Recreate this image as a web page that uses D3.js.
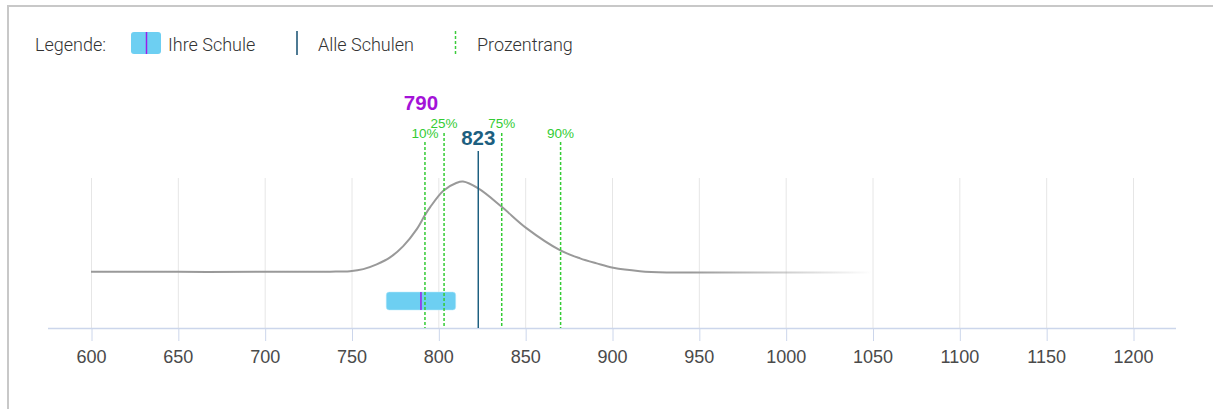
<!DOCTYPE html>
<html>
<head>
<meta charset="utf-8">
<script src="https://cdn.jsdelivr.net/npm/d3@7"></script>
<style>
  html, body { margin: 0; padding: 0; background: #fff; }
  svg { display: block; }
</style>
</head>
<body>
<svg id="chart" width="1213" height="409"></svg>
<script>
// ---- data ----
const xTicks = [600, 650, 700, 750, 800, 850, 900, 950, 1000, 1050, 1100, 1150, 1200];
const curveValues = [600, 650, 700, 737.6, 749.1, 756.8, 764.5, 772.2, 779.8, 787.5, 792.3, 795.2, 802.9, 810.6, 814.2,
  823, 836.5, 850.9, 870, 881.6, 891.2, 900.7, 916.1, 931.5, 946.6, 1000, 1050];
const curveDensity = [0.008, 0.008, 0.008, 0.01, 0.016, 0.038, 0.09, 0.167, 0.291, 0.475, 0.632, 0.716, 0.899, 0.987, 1.0,
  0.925, 0.723, 0.486, 0.247, 0.156, 0.101, 0.053, 0.016, 0.002, 0, 0, 0];
const percentileLabels = ["10%", "25%", "75%", "90%"];
const percentileValues = [792.3, 803.3, 836.5, 870.4];
const schoolValue = 790;
const schoolRange = [770, 810];
const allValue = 823;
const legendLabels = ["Legende:", "Ihre Schule", "Alle Schulen", "Prozentrang"];

// ---- drawing ----
const svg = d3.select("#chart");
const x = d3.scaleLinear().domain([600, 1200]).range([91, 1133]);
const y = d3.scaleLinear().domain([0, 1]).range([272.6, 181.6]);
const axisY = 328, gridTop = 178;

// frame
svg.append("rect").attr("x", 7).attr("y", 5).attr("width", 1206).attr("height", 2).attr("fill", "#c8c8c8");
svg.append("rect").attr("x", 7).attr("y", 5).attr("width", 2).attr("height", 404).attr("fill", "#c8c8c8");

// legend
const lg = svg.append("g");
const legendFont = "Roboto, sans-serif";
const lfs = 18;
lg.append("text").attr("x", 35).attr("y", 50.5).text(legendLabels[0])
  .attr("font-family", legendFont).attr("font-weight", 300).attr("font-size", lfs).attr("fill", "#333");
lg.append("rect").attr("x", 131).attr("y", 32).attr("width", 30).attr("height", 22).attr("rx", 3)
  .attr("fill", "#6dcff2");
lg.append("line").attr("x1", 146.5).attr("x2", 146.5).attr("y1", 32).attr("y2", 54)
  .attr("stroke", "#9b1de8").attr("stroke-width", 1.5);
lg.append("text").attr("x", 168).attr("y", 50.5).text(legendLabels[1])
  .attr("font-family", legendFont).attr("font-weight", 300).attr("font-size", lfs).attr("fill", "#333");
lg.append("line").attr("x1", 297).attr("x2", 297).attr("y1", 31).attr("y2", 55)
  .attr("stroke", "#4e7a93").attr("stroke-width", 2);
lg.append("text").attr("x", 318).attr("y", 50.5).text(legendLabels[2])
  .attr("font-family", legendFont).attr("font-weight", 300).attr("font-size", lfs).attr("fill", "#333");
lg.append("line").attr("x1", 455.5).attr("x2", 455.5).attr("y1", 31).attr("y2", 55)
  .attr("stroke", "#3ccc3c").attr("stroke-width", 1.5).attr("stroke-dasharray", "3,2");
lg.append("text").attr("x", 477).attr("y", 50.5).text(legendLabels[3])
  .attr("font-family", legendFont).attr("font-weight", 300).attr("font-size", lfs).attr("fill", "#333");

// grid lines
svg.append("g").selectAll("line").data(xTicks).join("line")
  .attr("x1", d => x(d) + 0.5).attr("x2", d => x(d) + 0.5)
  .attr("y1", gridTop).attr("y2", axisY)
  .attr("stroke", "#e6e6e6").attr("stroke-width", 1);

// axis
const axis = d3.axisBottom(x).tickValues(xTicks).tickSize(13).tickPadding(9).tickFormat(d3.format("d"));
const ag = svg.append("g").attr("transform", `translate(0,${axisY})`).call(axis);
ag.select(".domain").remove();
ag.selectAll(".tick line").attr("stroke", "#ccd6eb").attr("transform", "translate(0.5,0)");
ag.selectAll(".tick text").attr("font-family", "'Liberation Sans', Arial, sans-serif")
  .attr("font-size", 18).attr("fill", "#4a4a4a").attr("dy", "0.71em");
svg.append("line").attr("x1", 48).attr("x2", 1176).attr("y1", axisY + 0.5).attr("y2", axisY + 0.5)
  .attr("stroke", "#ccd6eb").attr("stroke-width", 1.5);

// curve with fade
const defs = svg.append("defs");
const grad = defs.append("linearGradient").attr("id", "fade").attr("gradientUnits", "userSpaceOnUse")
  .attr("x1", x(600)).attr("x2", x(1050)).attr("y1", 0).attr("y2", 0);
const fadeStart = (945 - 600) / (1050 - 600);
grad.append("stop").attr("offset", 0).attr("stop-color", "#999").attr("stop-opacity", 1);
grad.append("stop").attr("offset", fadeStart).attr("stop-color", "#999").attr("stop-opacity", 1);
grad.append("stop").attr("offset", 1).attr("stop-color", "#999").attr("stop-opacity", 0);

const line = d3.line().x(d => x(d[0])).y(d => y(d[1])).curve(d3.curveCatmullRom.alpha(0.5));
svg.append("path").datum(curveValues.map((v, i) => [v, curveDensity[i]]))
  .attr("d", line).attr("fill", "none").attr("stroke", "url(#fade)").attr("stroke-width", 2);

// school box
svg.append("rect").attr("x", x(schoolRange[0])).attr("y", 292)
  .attr("width", x(schoolRange[1]) - x(schoolRange[0])).attr("height", 18).attr("rx", 3)
  .attr("fill", "#6dcff2").attr("stroke", "#b9e8fa").attr("stroke-width", 0.5);
svg.append("line").attr("x1", x(schoolValue)).attr("x2", x(schoolValue)).attr("y1", 292).attr("y2", 310)
  .attr("stroke", "#9b1de8").attr("stroke-width", 1.5);

// percentile lines
const pg = svg.append("g");
percentileValues.forEach((v, i) => {
  const high = (i === 1 || i === 2);
  pg.append("line").attr("x1", x(v)).attr("x2", x(v))
    .attr("y1", high ? 133 : 142).attr("y2", axisY)
    .attr("stroke", "#33cc33").attr("stroke-width", 1.5).attr("stroke-dasharray", "3,2");
  pg.append("text").attr("x", x(v)).attr("y", high ? 128 : 137.5).attr("text-anchor", "middle")
    .attr("font-family", "'Liberation Sans', Arial, sans-serif").attr("font-size", 13.5)
    .attr("fill", "#33cc33").text(percentileLabels[i]);
});

// all schools line
svg.append("line").attr("x1", x(allValue)).attr("x2", x(allValue)).attr("y1", 151).attr("y2", axisY)
  .attr("stroke", "#1d5f80").attr("stroke-width", 1.5);
svg.append("text").attr("x", x(allValue)).attr("y", 145).attr("text-anchor", "middle")
  .attr("font-family", "'Liberation Sans', Arial, sans-serif").attr("font-weight", "bold")
  .attr("font-size", 20.5).attr("fill", "#1d5f80").text(allValue);
svg.append("text").attr("x", x(schoolValue)).attr("y", 110).attr("text-anchor", "middle")
  .attr("font-family", "'Liberation Sans', Arial, sans-serif").attr("font-weight", "bold")
  .attr("font-size", 20.5).attr("fill", "#a412d8").text(schoolValue);
</script>
</body>
</html>
